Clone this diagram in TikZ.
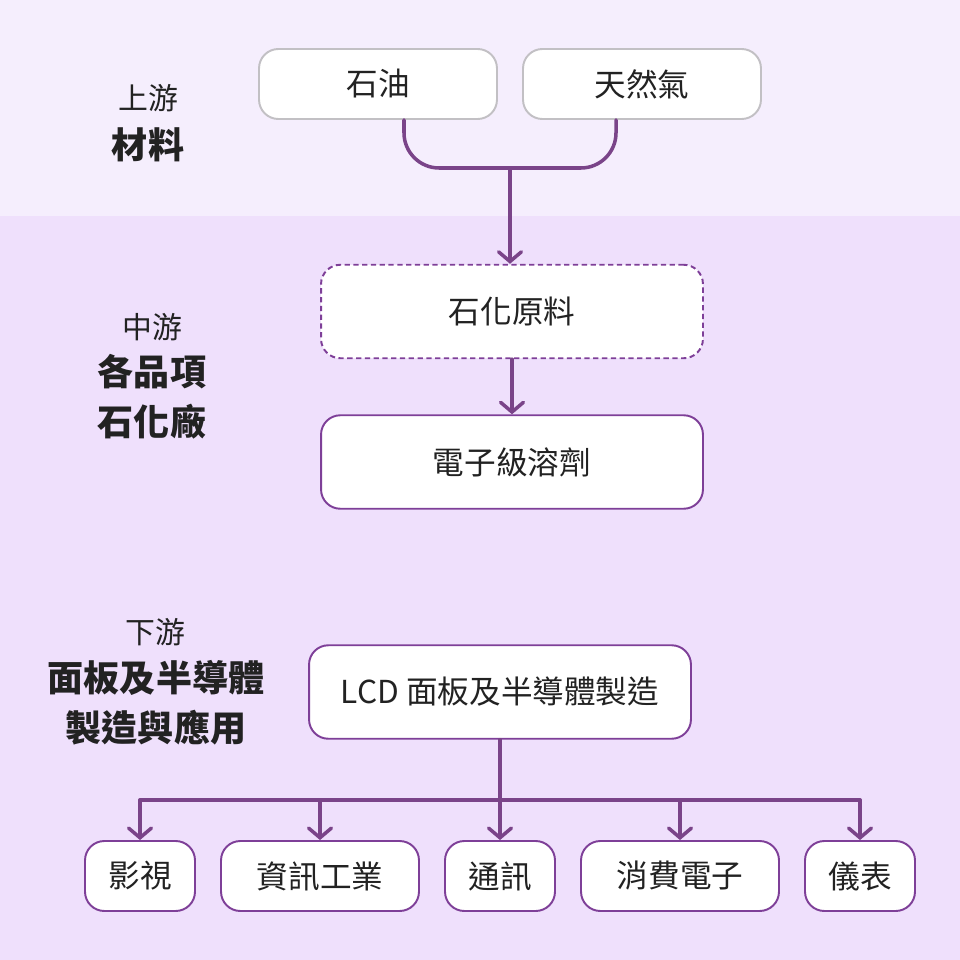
\documentclass[tikz,border=0pt]{standalone}
\usepackage{fontspec}
\setmainfont{Noto Sans CJK TC}
\usepackage{xcolor}
\usetikzlibrary{arrows.meta, shapes, positioning, calc}
\definecolor{bandtop}{HTML}{F5EEFD}
\definecolor{bandmain}{HTML}{EFE0FC}
\definecolor{linkpurple}{HTML}{7A4489}
\definecolor{boxpurple}{HTML}{7E3F98}
\definecolor{boxgray}{HTML}{C2C0C4}
\definecolor{ink}{HTML}{222222}

\begin{document}
\begin{tikzpicture}[x=0.02cm, y=-0.02cm,
  item/.style={rectangle, draw=boxpurple, line width=1.1pt, fill=white, rounded corners=11pt,
               minimum height=1.4cm, text centered, text=ink, font=\fontsize{18}{20}\selectfont},
  source/.style={item, draw=boxgray, minimum width=4.76cm},
  stage/.style={item, minimum width=7.64cm, minimum height=1.87cm},
  usebox/.style={item, minimum height=1.4cm},
  tier/.style={text=ink, font=\fontsize{17}{20}\selectfont},
  tierbold/.style={text=ink, font=\fontsize{20.5}{28.5}\selectfont\bfseries, align=center},
  link/.style={draw=linkpurple, line width=2pt, line cap=round},
  flow/.style={link, -{Straight Barb[length=5.5pt, width=13pt, line cap=round]}}
]
\fill[bandmain] (0,0) rectangle (960,960);
\fill[bandtop] (0,0) rectangle (960,216);

\node[tier] (upT) at (148,98) {上游};
\node[tierbold] (upB) at (148,145) {材料};
\node[tier] (midT) at (152,327) {中游};
\node[tierbold] (midB) at (152,397) {各品項\\石化廠};
\node[tier] (downT) at (155,632) {下游};
\node[tierbold] (downB) at (156,703) {面板及半導體\\製造與應用};

\node[source] (oil) at (378,84) {石油};
\node[source] (gas) at (642,84) {天然氣};
\node[stage, dashed, dash pattern=on 3pt off 2pt] (raw) at (512,311.5) {石化原料};
\node[stage] (solvent) at (512,462) {電子級溶劑};
\node[stage] (lcd) at (500,692) {LCD 面板及半導體製造};

\node[usebox, minimum width=2.2cm] (av) at (140,876) {影視};
\node[usebox, minimum width=3.96cm] (it) at (320,876) {資訊工業};
\node[usebox, minimum width=2.2cm] (comm) at (500,876) {通訊};
\node[usebox, minimum width=3.96cm] (cons) at (680,876) {消費電子};
\node[usebox, minimum width=2.2cm] (meter) at (860,876) {儀表};

\coordinate (merge) at (510,168);
\coordinate (split) at (500,800);

\draw[link, rounded corners=20pt] ($(oil.south)+(26,0)$) |- (merge) -| ($(gas.south)+(-26,0)$);
\draw[flow] (merge) -- (merge |- raw.north);
\draw[flow] (raw) -- (solvent);
\draw[link] (lcd) -- (split);
\draw[link] (av |- split) -- (meter |- split);
\foreach \n in {av, it, comm, cons, meter}
  \draw[flow] (\n |- split) -- (\n.north);
\end{tikzpicture}
\end{document}
